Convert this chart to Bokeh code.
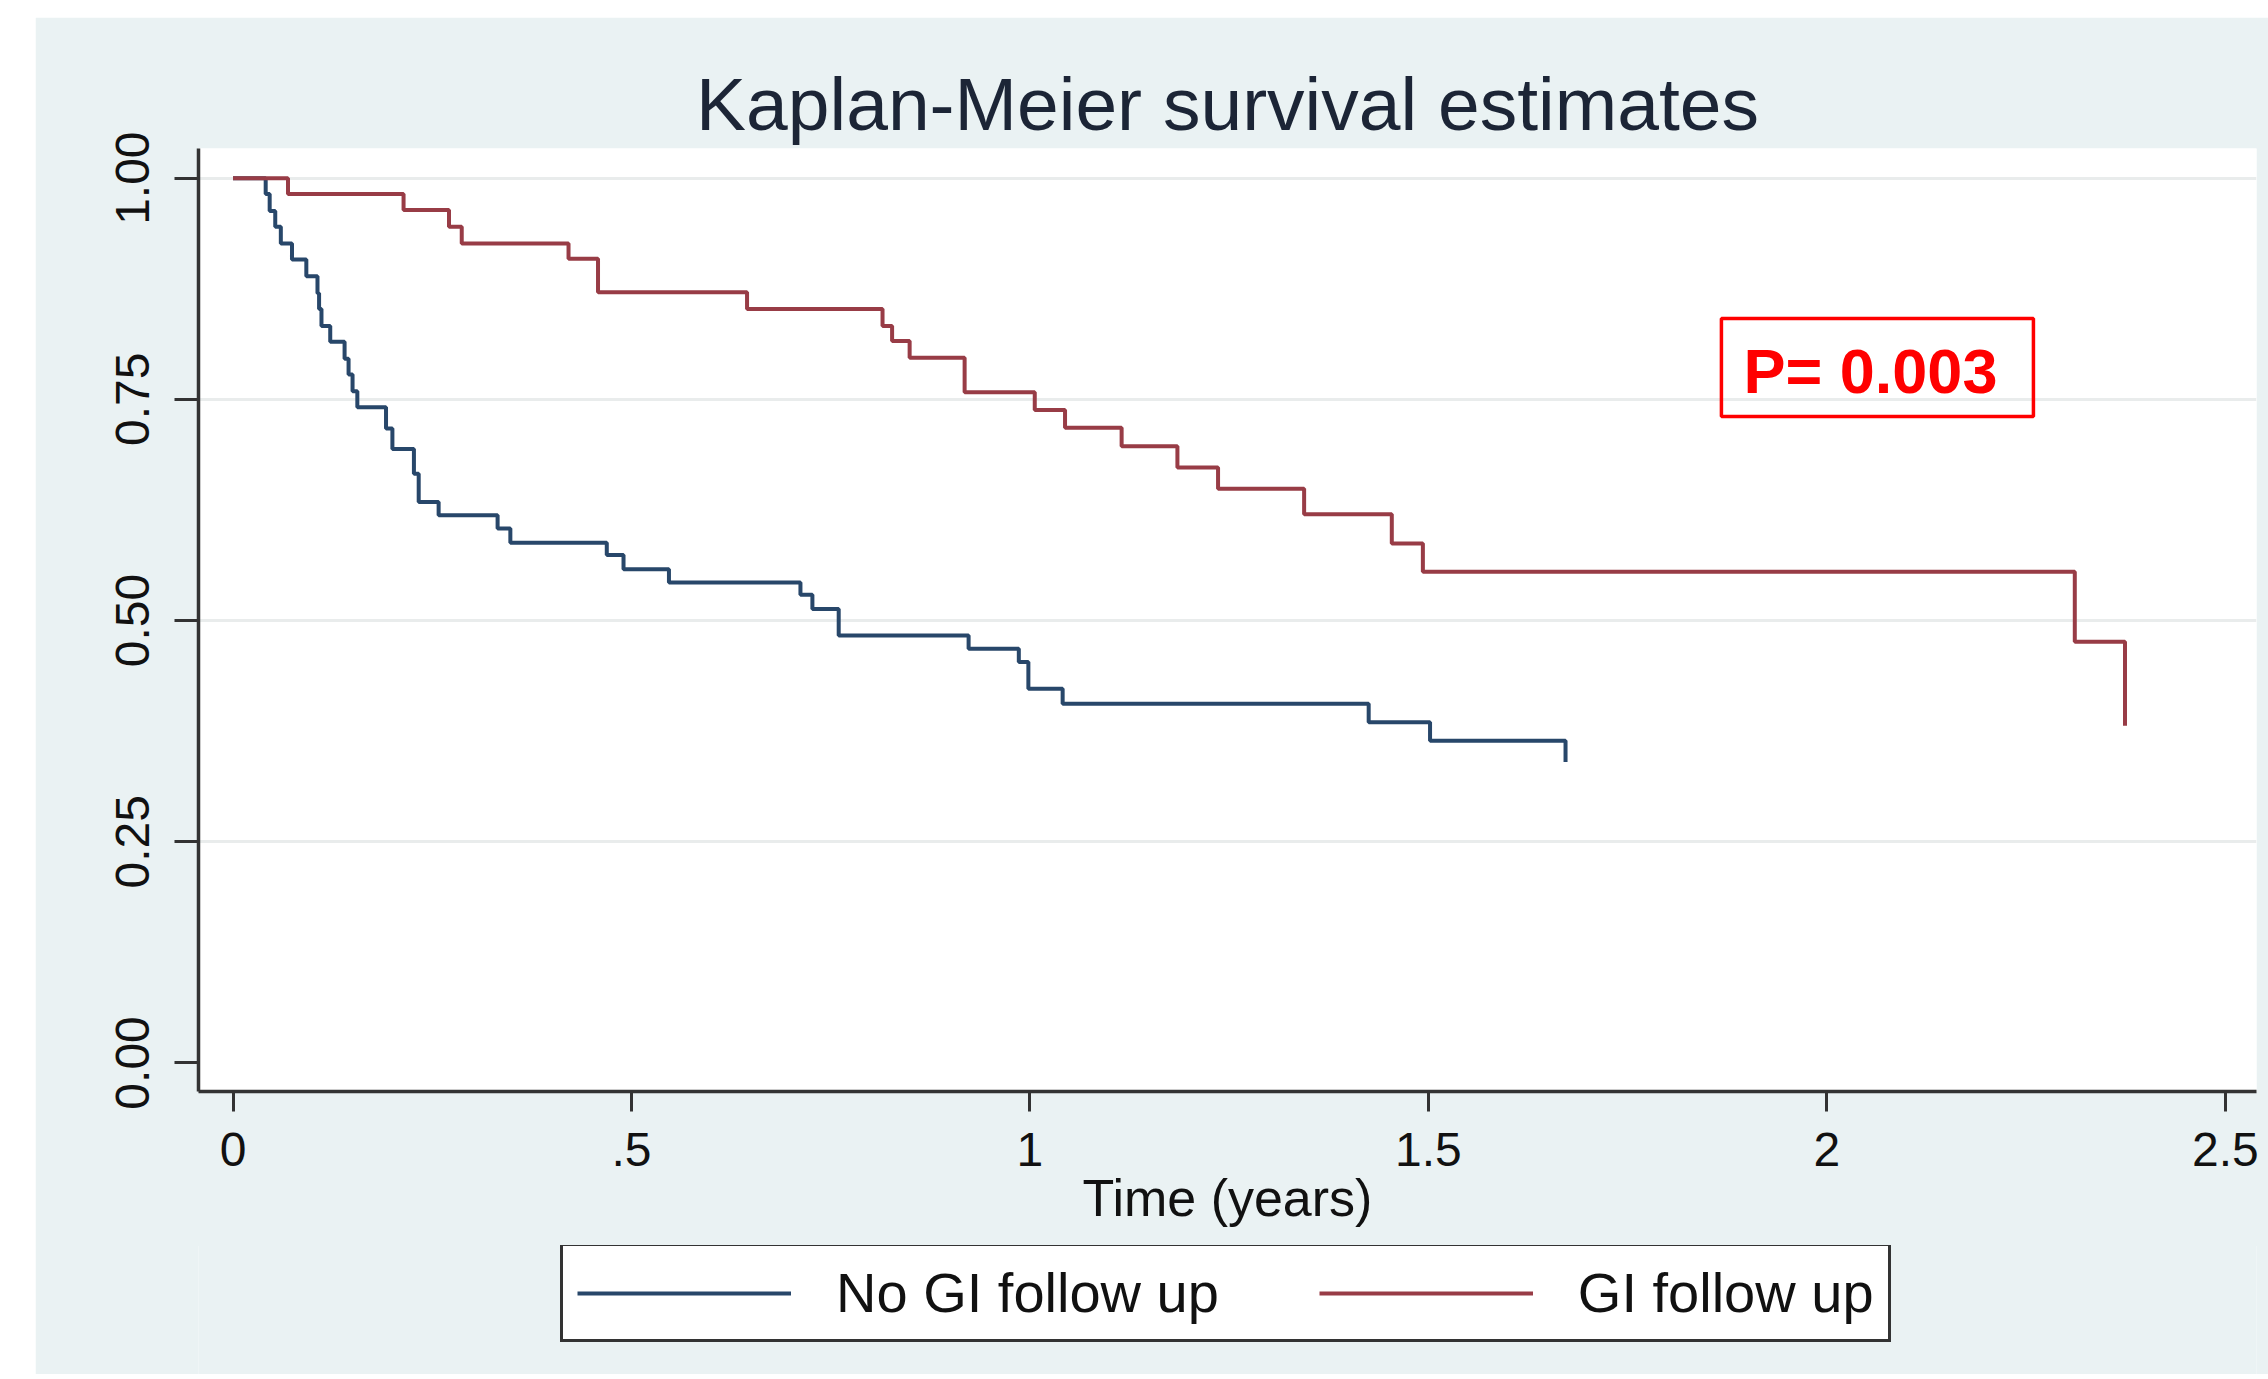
from bokeh.plotting import figure
from bokeh.layouts import column
from bokeh.models import FixedTicker, Legend, LegendItem, BoxAnnotation, Label
from bokeh.embed import file_html
from bokeh.resources import INLINE

# ---------------- data ----------------
no_gi_time = [0, 0.041, 0.046, 0.053, 0.060, 0.074, 0.092, 0.106, 0.108, 0.111,
              0.122, 0.140, 0.145, 0.150, 0.156, 0.192, 0.200, 0.227, 0.233, 0.258,
              0.332, 0.348, 0.469, 0.490, 0.547, 0.712, 0.727, 0.760, 0.923, 0.986,
              0.998, 1.041, 1.425, 1.502, 1.672]
no_gi_surv = [1.0, 0.982, 0.963, 0.945, 0.926, 0.908, 0.889, 0.870, 0.852, 0.833,
              0.815, 0.796, 0.778, 0.759, 0.741, 0.717, 0.694, 0.666, 0.634, 0.619,
              0.604, 0.588, 0.574, 0.558, 0.543, 0.529, 0.513, 0.483, 0.468, 0.453,
              0.423, 0.406, 0.385, 0.364, 0.340]

gi_time = [0, 0.069, 0.214, 0.271, 0.287, 0.421, 0.458, 0.645, 0.815, 0.827,
           0.849, 0.918, 1.006, 1.044, 1.115, 1.185, 1.236, 1.344, 1.454, 1.493,
           2.311, 2.374]
gi_surv = [1.0, 0.982, 0.964, 0.945, 0.926, 0.909, 0.871, 0.852, 0.833, 0.816,
           0.797, 0.758, 0.738, 0.718, 0.697, 0.673, 0.649, 0.620, 0.587, 0.555,
           0.476, 0.381]

series_names = ["No GI follow up", "GI follow up"]
x_ticks = [0, 0.5, 1, 1.5, 2, 2.5]
x_tick_labels = ["0", ".5", "1", "1.5", "2", "2.5"]
y_ticks = [0, 0.25, 0.5, 0.75, 1.0]
y_tick_labels = ["0.00", "0.25", "0.50", "0.75", "1.00"]
grid_ticks = [0.25, 0.5, 0.75, 1.0]
title_text = "Kaplan-Meier survival estimates"
x_label = "Time (years)"
p_value_text = "P= 0.003"

# ---------------- styles ----------------
FONT = "Liberation Sans"
BLUE = "#28476a"
RED = "#983c46"
BG = "#EAF2F3"
LW = 4

p = figure(width=2233, height=1229,
           x_range=(-0.0433, 2.539), y_range=(-0.0323, 1.0335),
           output_backend="svg", toolbar_location=None,
           min_border_left=163, min_border_right=12,
           min_border_top=131, min_border_bottom=155,
           background_fill_color="white", border_fill_color=BG,
           outline_line_color=None)
p.margin = (17, 0, 0, 35)

r_blue = p.step(no_gi_time, no_gi_surv, mode="after", line_color=BLUE, line_width=LW)
r_red = p.step(gi_time, gi_surv, mode="after", line_color=RED, line_width=LW)

# title
p.title.text = title_text
p.title.align = "center"
p.title.text_font = FONT
p.title.text_font_size = "75px"
p.title.text_font_style = "normal"
p.title.text_color = "#1c2536"
p.title.standoff = 5

# axes
for ax in (p.xaxis[0], p.yaxis[0]):
    ax.axis_line_color = "#333333"
    ax.axis_line_width = 3.5
    ax.major_tick_line_color = "#333333"
    ax.major_tick_line_width = 3
    ax.major_tick_in = 0
    ax.minor_tick_line_color = None
    ax.major_label_text_font = FONT
    ax.major_label_text_font_size = "48px"
    ax.major_label_text_color = "#111111"

p.xaxis.ticker = FixedTicker(ticks=x_ticks)
p.xaxis.major_label_overrides = dict(zip(x_ticks, x_tick_labels))
p.xaxis.major_tick_out = 20
p.xaxis.major_label_standoff = 21
p.xaxis.axis_label = x_label
p.xaxis.axis_label_text_font = FONT
p.xaxis.axis_label_text_font_size = "52px"
p.xaxis.axis_label_text_font_style = "normal"
p.xaxis.axis_label_text_color = "#111111"
p.xaxis.axis_label_standoff = 0

p.yaxis.ticker = FixedTicker(ticks=y_ticks)
p.yaxis.major_label_overrides = dict(zip(y_ticks, y_tick_labels))
p.yaxis.major_tick_out = 24
p.yaxis.major_label_standoff = 25
p.yaxis.major_label_orientation = "vertical"

# grid
p.xgrid.visible = False
p.ygrid.ticker = FixedTicker(ticks=grid_ticks)
p.ygrid.grid_line_color = "#E9ECEC"
p.ygrid.grid_line_width = 3

# p-value annotation
p.add_layout(BoxAnnotation(left=1.8676, right=2.2591, bottom=0.7306, top=0.8413,
                           fill_alpha=0, line_color="#ff0000", line_alpha=1.0,
                           line_width=3.5))
p.add_layout(Label(x=2.0546, y=0.7825, text=p_value_text, text_align="center",
                   text_baseline="alphabetic", text_font=FONT, text_font_size="63px",
                   text_font_style="bold", text_color="#ff0000"))

# ---------------- legend strip below the chart ----------------
# same series drawn again, but outside this strip's visible range, only to key the legend
p2 = figure(width=2233, height=129, title=None,
            x_range=(100, 101), y_range=(100, 101),
            output_backend="svg", toolbar_location=None, min_border=0,
            x_axis_location=None, y_axis_location=None,
            outline_line_color=None, background_fill_color=BG, border_fill_color=BG)
p2.margin = (-1, 0, 0, 35)
p2.grid.visible = False
k_blue = p2.step(no_gi_time, no_gi_surv, mode="after", line_color=BLUE, line_width=LW)
k_red = p2.step(gi_time, gi_surv, mode="after", line_color=RED, line_width=LW)

legend = Legend(items=[LegendItem(label=series_names[0], renderers=[k_blue]),
                       LegendItem(label=series_names[1], renderers=[k_red])],
                orientation="horizontal", location=(362, 32))
legend.label_text_font = FONT
legend.label_text_font_size = "56px"
legend.label_text_color = "#111111"
legend.glyph_width = 214
legend.glyph_height = 40
legend.label_standoff = 45
legend.spacing = 100
legend.padding = 14
legend.margin = 0
legend.border_line_color = "#333333"
legend.border_line_alpha = 1.0
legend.border_line_width = 3
legend.background_fill_color = "white"
legend.background_fill_alpha = 1.0
p2.add_layout(legend)

layout = column(p, p2, spacing=0)
open("out.html", "w").write(file_html(layout, INLINE))
